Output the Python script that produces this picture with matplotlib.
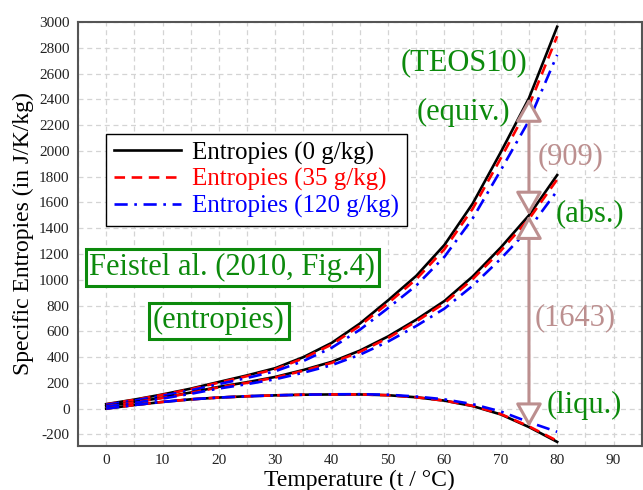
import numpy as np
import matplotlib
matplotlib.use("Agg")
import matplotlib.pyplot as plt

plt.rcParams['font.family'] = ['Liberation Serif', 'DejaVu Serif']
plt.rcParams['axes.unicode_minus'] = False

# temperature grid (deg C)
temp = [0, 5, 10, 15, 20, 25, 30, 35, 40, 45, 50, 55, 60, 65, 70, 75, 80]

# equivalent entropy (TEOS10)
equiv_0 = [35, 70, 110, 155, 207, 258, 314, 400, 510, 660, 840, 1030, 1270, 1590, 1990, 2409, 2963]
equiv_35 = [33, 68, 107, 151, 202, 252, 306, 390, 497, 643, 818, 1004, 1237, 1550, 1942, 2350, 2890]
equiv_120 = [30, 63, 100, 142, 190, 238, 290, 370, 472, 612, 780, 955, 1178, 1475, 1850, 2235, 2745]

# absolute entropy
abs_0 = [20, 50, 85, 125, 169, 205, 246, 300, 363, 450, 560, 690, 835, 1025, 1250, 1500, 1812]
abs_35 = [19, 49, 83, 122, 165, 200, 241, 294, 355, 440, 548, 676, 818, 1004, 1225, 1471, 1778]
abs_120 = [17, 45, 78, 115, 156, 190, 228, 279, 337, 418, 520, 641, 776, 953, 1163, 1395, 1690]

# liquid entropy
liq_0 = [0, 28, 52, 72, 86, 96, 103, 108, 110, 110, 104, 88, 62, 20, -45, -143, -258]
liq_35 = [0, 28, 52, 72, 86, 96, 103, 108, 110, 110, 104, 88, 62, 22, -42, -138, -250]
liq_120 = [0, 28, 52, 72, 86, 96, 103, 108, 111, 112, 108, 94, 72, 35, -22, -105, -180]

t_mark = 75
green = '#0c8a0c'
rose = '#bc8f8f'

fig = plt.figure(figsize=(6.43, 4.90), dpi=100)
ax = fig.add_axes([0.1213, 0.0898, 0.8767, 0.8653])

lw = 1.9
for s0, s35, s120 in [(equiv_0, equiv_35, equiv_120), (abs_0, abs_35, abs_120), (liq_0, liq_35, liq_120)]:
    ax.plot(temp, s0, color='black', lw=lw, label='Entropies (0 g/kg)')
    ax.plot(temp, s35, color='red', lw=lw, ls=(0, (4, 2.5)), label='Entropies (35 g/kg)')
    ax.plot(temp, s120, color='blue', lw=lw, ls=(0, (5, 2.5, 1, 2.5)), label='Entropies (120 g/kg)')

ax.set_xlim(-5, 95)
ax.set_ylim(-290, 3000)
ax.set_xticks(np.arange(0, 91, 10))
ax.set_xticks(np.arange(-5, 96, 5), minor=True)
ax.set_yticks(np.arange(-200, 3001, 200))
ax.grid(True, which='both', axis='x', color='#d4d4d4', ls=(0, (4, 3)), lw=0.9)
ax.grid(True, which='major', axis='y', color='#d4d4d4', ls=(0, (4, 3)), lw=0.9)
ax.set_axisbelow(True)
ax.tick_params(which='both', length=0, labelsize=11, pad=6, labelcolor='#222222')
for sp in ax.spines.values():
    sp.set_color('#555555')
    sp.set_linewidth(1.5)

ax.set_xlabel('Temperature (t / °C)', fontsize=17, labelpad=2)
ax.set_ylabel('Specific Entropies (in J/K/kg)', fontsize=17, labelpad=4)

h, l = ax.get_legend_handles_labels()
leg = ax.legend(h[:3], l[:3], loc='upper left', bbox_to_anchor=(0.0497, 0.736),
                borderaxespad=0, fontsize=18, handlelength=2.7, handletextpad=0.45,
                labelspacing=0.15, borderpad=0.3, fancybox=False, framealpha=1,
                edgecolor='black')
leg.get_frame().set_linewidth(1.0)
for txt, c in zip(leg.get_texts(), ['black', 'red', 'blue']):
    txt.set_color(c)

# differences at t = 75 C
i = temp.index(t_mark)
top, mid, low = equiv_0[i], abs_0[i], liq_0[i]
astyle = '<|-|>,head_length=0.8,head_width=0.45'
for a, b in [(mid, top), (low, mid)]:
    ax.annotate('', xy=(t_mark, b), xytext=(t_mark, a),
                arrowprops=dict(arrowstyle=astyle, mutation_scale=18, lw=2.2,
                                ec=rose, fc='white', shrinkA=0, shrinkB=0))

fs = 22
ax.text(63.5, 2686, '(TEOS10)', color=green, fontsize=fs, ha='center', va='center')
ax.text(71.7, 2300, '(equiv.)', color=green, fontsize=fs, ha='right', va='center')
ax.text(82.4, (top + mid) / 2, '(%d)' % (top - mid), color=rose, fontsize=fs, ha='center', va='center')
ax.text(85.9, 1502, '(abs.)', color=green, fontsize=fs, ha='center', va='center')
ax.text(83.2, (mid + low) / 2 + 30, '(%d)' % (mid - low), color=rose, fontsize=fs, ha='center', va='center')
ax.text(84.9, 26, '(liqu.)', color=green, fontsize=fs, ha='center', va='center')

box = dict(boxstyle='square,pad=0.12', fc='white', ec=green, lw=2.2)
ax.text(22.4, 1094, 'Feistel al. (2010, Fig.4)', color=green, fontsize=fs,
        ha='center', va='center', bbox=box)
ax.text(20.0, 682, '(entropies)', color=green, fontsize=fs,
        ha='center', va='center', bbox=box)

fig.savefig('out.png', dpi=100)
